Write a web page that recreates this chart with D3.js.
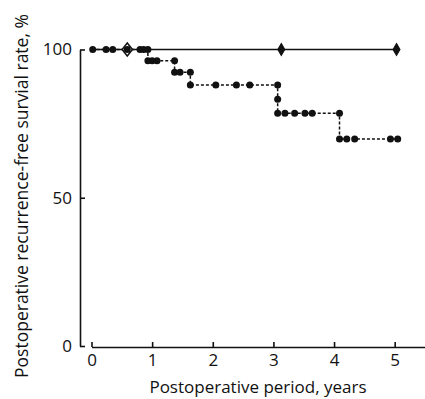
<!DOCTYPE html>
<html>
<head>
<meta charset="utf-8">
<script src="https://cdn.jsdelivr.net/npm/d3@7"></script>
<style>
  body { margin: 0; background: #fff; }
  svg { display: block; }
  text { font-family: "Open Sans", "Noto Sans", sans-serif; fill: #111; }
</style>
</head>
<body>
<svg id="canvas" width="425" height="399"></svg>
<script>
// recurrence-free survival, two groups (Kaplan-Meier style)

var canvas = d3.select('#canvas');

// x ticks / y ticks
var xTicks = [0, 1, 2, 3, 4, 5];
var yTicks = [0, 50, 100];

// dashed group: step change times and survival after each step
var stepTimes = [0, 0.93, 1.37, 1.63, 3.07, 4.09];
var stepSurv = [100, 96.2, 92.3, 88.0, 78.5, 69.8];
var stepEnd = 5.05;

// censored (dot) marks of the dashed group
var dotTimes = [0.02, 0.24, 0.35, 0.59, 0.80, 0.86, 0.93,
  0.93, 1.00, 1.08, 1.37,
  1.37, 1.46, 1.63,
  1.63, 2.05, 2.39, 2.61, 3.07,
  3.07,
  3.07, 3.19, 3.35, 3.52, 3.64, 4.09,
  4.09, 4.21, 4.34, 4.93, 5.05];
var dotSurv = [100, 100, 100, 100, 100, 100, 100,
  96.2, 96.2, 96.2, 96.2,
  92.3, 92.3, 92.3,
  88.0, 88.0, 88.0, 88.0, 88.0,
  83.2,
  78.5, 78.5, 78.5, 78.5, 78.5, 78.5,
  69.8, 69.8, 69.8, 69.8, 69.8];

// solid group: stays at 100 %
var solidTimes = [0, 5.03];
var solidSurv = [100, 100];
var diamondTimes = [0.59, 3.13, 5.03];
var diamondSurv = [100, 100, 100];

var xScale = d3.scaleLinear().domain([0, 5.5]).range([91.5, 425]);
var yScale = d3.scaleLinear().domain([0, 100]).range([346, 49.5]);

// axes
var xAxis = d3.axisBottom(xScale).tickValues(xTicks).tickFormat(d3.format('d'))
  .tickSize(-5).tickSizeOuter(0).tickPadding(7);
var gx = canvas.append('g')
  .attr('transform', 'translate(0,347)')
  .call(xAxis);

var yAxis = d3.axisLeft(yScale).tickValues(yTicks).tickFormat(d3.format('d'))
  .tickSize(-5).tickSizeOuter(0).tickPadding(8);
var gy = canvas.append('g')
  .attr('transform', 'translate(80,0)')
  .call(yAxis);

[gx, gy].forEach(function(g) {
  g.attr('font-family', null).attr('font-size', null);
  g.selectAll('path, line').attr('stroke', '#111').attr('stroke-width', 1.6);
  g.selectAll('text').style('font-size', '17px').attr('fill', '#111');
});

// solid line
var line = d3.line()
  .x(function(d) { return xScale(d[0]); })
  .y(function(d) { return yScale(d[1]); });

canvas.append('path')
  .datum(d3.zip(solidTimes, solidSurv))
  .attr('d', line)
  .attr('fill', 'none')
  .attr('stroke', '#111')
  .attr('stroke-width', 1.3);

// dashed step curve
var stepPts = d3.zip(stepTimes, stepSurv);
stepPts.push([stepEnd, stepSurv[stepSurv.length - 1]]);
canvas.append('path')
  .datum(stepPts)
  .attr('d', line.curve(d3.curveStepAfter))
  .attr('fill', 'none')
  .attr('stroke', '#111')
  .attr('stroke-width', 1.5)
  .attr('stroke-dasharray', '3,2');

// diamonds
var diamond = d3.symbol().type(d3.symbolDiamond).size(40);
canvas.selectAll('.dia')
  .data(d3.zip(diamondTimes, diamondSurv))
  .enter().append('path')
  .attr('class', 'dia')
  .attr('transform', function(d, i) {
    return 'translate(' + xScale(d[0]) + ',' + yScale(d[1]) + ')' + (i === 0 ? ' scale(1.5,1.1)' : '');
  })
  .attr('d', diamond)
  .attr('fill', function(d, i) { return i === 0 ? '#fff' : '#111'; })
  .attr('stroke', '#111')
  .attr('stroke-width', 1.2);

// dots
canvas.selectAll('.dot')
  .data(d3.zip(dotTimes, dotSurv))
  .enter().append('circle')
  .attr('class', 'dot')
  .attr('cx', function(d) { return xScale(d[0]); })
  .attr('cy', function(d) { return yScale(d[1]); })
  .attr('r', 3.5)
  .attr('fill', '#111');

// axis titles
canvas.append('text')
  .attr('x', 258)
  .attr('y', 393)
  .attr('text-anchor', 'middle')
  .style('font-size', '17px')
  .text('Postoperative period, years');

canvas.append('text')
  .attr('transform', 'translate(28,196) rotate(-90)')
  .attr('text-anchor', 'middle')
  .style('font-size', '17.5px')
  .text('Postoperative recurrence-free survial rate, %');
</script>
</body>
</html>
